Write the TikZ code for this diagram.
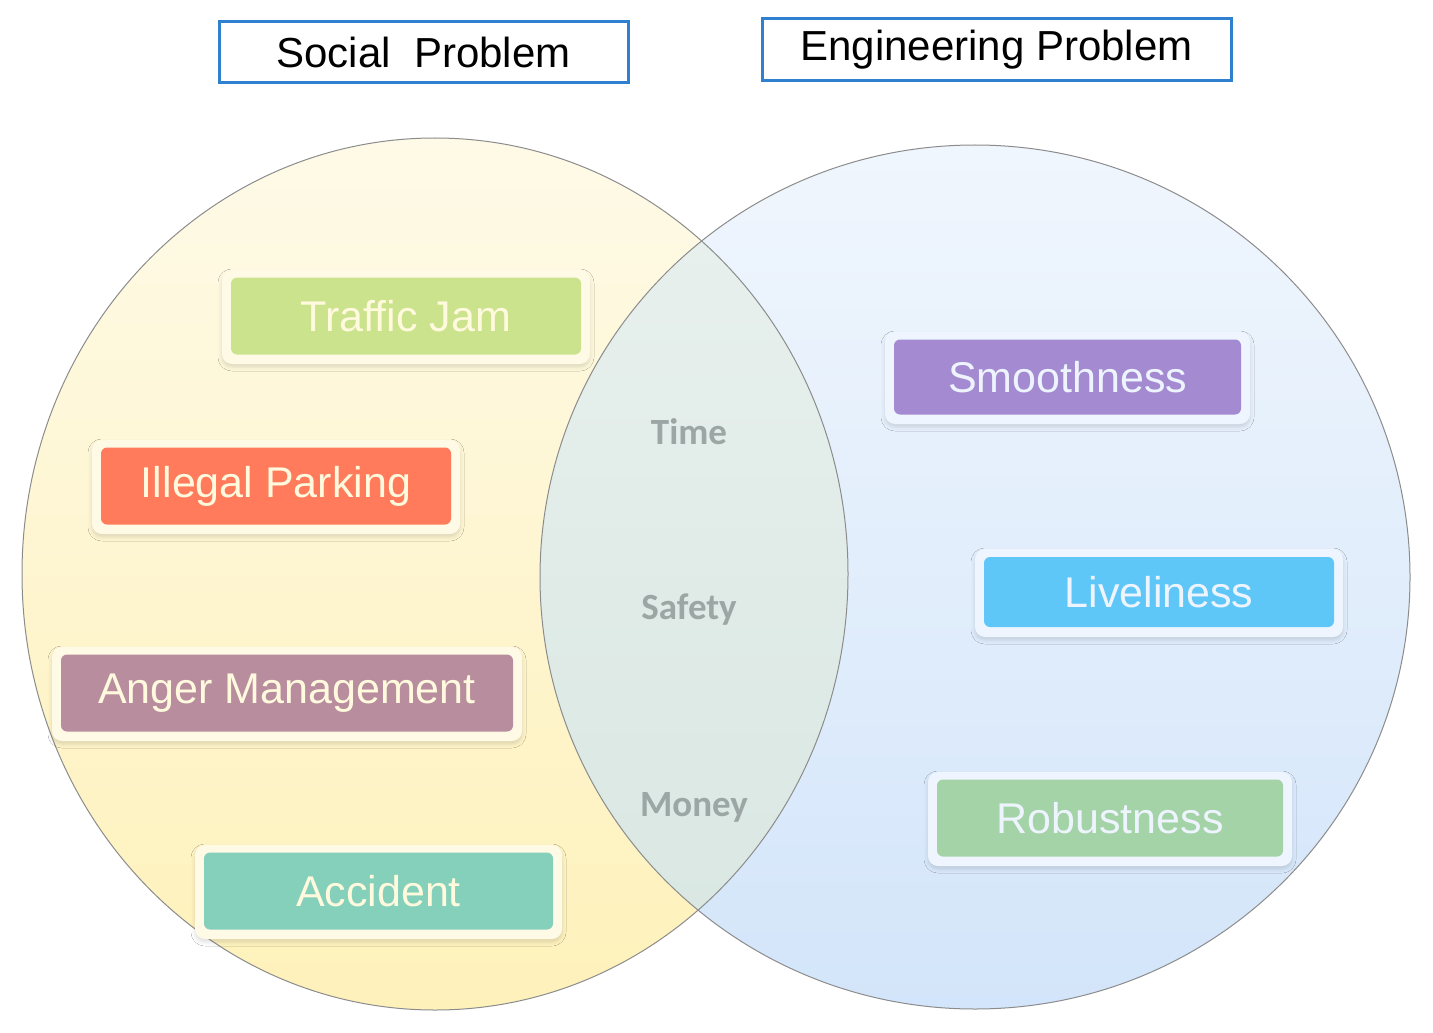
\documentclass[tikz,border=0pt]{standalone}
\usepackage{fontspec}
\setmainfont{Liberation Sans}
\newfontfamily\interfont{Carlito}
\usetikzlibrary{shadows.blur}
\definecolor{yelTop}{HTML}{FEFAE7}
\definecolor{yelBot}{HTML}{FEF1BA}
\definecolor{bluTop}{HTML}{F0F6FD}
\definecolor{bluBot}{HTML}{D3E5FA}
\definecolor{midTop}{HTML}{E9F1EE}
\definecolor{midBot}{HTML}{D8E6E1}
\definecolor{circLine}{HTML}{8C8C8C}
\definecolor{titleBlue}{HTML}{2F80CF}
\definecolor{glowY}{HTML}{FFFAE6}
\definecolor{glowB}{HTML}{EEF5FE}
\definecolor{txtY}{HTML}{FFF9DE}
\definecolor{txtB}{HTML}{EEF4FE}
\definecolor{cJam}{HTML}{CCE38D}
\definecolor{cPark}{HTML}{FF7B5B}
\definecolor{cAnger}{HTML}{B88E9F}
\definecolor{cAcc}{HTML}{84D0BA}
\definecolor{cSmooth}{HTML}{A48BD1}
\definecolor{cLive}{HTML}{5FC7F7}
\definecolor{cRobust}{HTML}{A3D3A6}
\definecolor{interText}{HTML}{9CA6A4}
\tikzset{
  titlebox/.style={draw=titleBlue, line width=1.5pt, fill=white, inner sep=0pt,
    font=\fontsize{21}{24}\selectfont, text=black},
  glowbox/.style={rounded corners=5pt, fill=#1, inner sep=0pt,
    blur shadow={shadow xshift=0pt, shadow yshift=-1.5pt, shadow blur radius=2pt, shadow opacity=13}},
  tagbox/.style={rounded corners=3pt, inner sep=0pt, fill=#1,
    font=\fontsize{21.5}{24}\selectfont},
  intertext/.style={font=\interfont\bfseries\fontsize{18.5}{22}\selectfont, text=interText},
  circline/.style={draw=circLine, line width=0.5pt}
}
\begin{document}
\begin{tikzpicture}[x=0.5pt,y=-0.5pt]
\useasboundingbox (0,0) rectangle (1433,1032);
\fill[white] (0,0) rectangle (1433,1032);

% circles
\shade[top color=yelTop, bottom color=yelBot] (435,574) ellipse [x radius=413, y radius=436];
\shade[top color=bluTop, bottom color=bluBot] (975,577) ellipse [x radius=435, y radius=432];
\begin{scope}
  \clip (435,574) ellipse [x radius=413, y radius=436];
  \shade[top color=midTop, bottom color=midBot] (975,577) ellipse [x radius=435, y radius=432];
\end{scope}
\draw[circline] (435,574) ellipse [x radius=413, y radius=436];
\draw[circline] (975,577) ellipse [x radius=435, y radius=432];

% titles
\node[titlebox, minimum width=204.5pt, minimum height=30.5pt] (social) at (423.5,52.5) {Social\ \ Problem};
\node[titlebox, minimum width=234.5pt, minimum height=31pt] (eng) at (996.5,50) {Engineering Problem};

% left tags
\node[glowbox=glowY, minimum width=184pt, minimum height=47pt] (jamG) at (406,317) {};
\node[tagbox=cJam, text=txtY, minimum width=175pt, minimum height=38.5pt] (jam) at (406,316) {Traffic Jam};

\node[glowbox=glowY, minimum width=184pt, minimum height=47pt] (parkG) at (276,487) {};
\node[tagbox=cPark, text=txtY, minimum width=175pt, minimum height=38.5pt] (park) at (276,486) {Illegal Parking};

\node[glowbox=glowY, minimum width=235pt, minimum height=47pt] (angerG) at (287,694) {};
\node[tagbox=cAnger, text=txtY, minimum width=226pt, minimum height=38.5pt] (anger) at (287,693) {Anger Management};

\node[glowbox=glowY, minimum width=183.5pt, minimum height=47pt] (accG) at (378.5,892) {};
\node[tagbox=cAcc, text=txtY, minimum width=174.5pt, minimum height=38.5pt] (acc) at (378.5,891) {Accident};

% right tags
\node[glowbox=glowB, minimum width=182.5pt, minimum height=46pt] (smoothG) at (1067.5,378) {};
\node[tagbox=cSmooth, text=txtB, minimum width=173.5pt, minimum height=37.5pt] (smooth) at (1067.5,377) {Smoothness};

\node[glowbox=glowB, minimum width=184pt, minimum height=44pt] (liveG) at (1159,593) {};
\node[tagbox=cLive, text=txtB, minimum width=175pt, minimum height=35pt] (live) at (1159,592) {Liveliness};

\node[glowbox=glowB, minimum width=182pt, minimum height=47pt] (robG) at (1110,819) {};
\node[tagbox=cRobust, text=txtB, minimum width=173pt, minimum height=38.5pt] (rob) at (1110,818) {Robustness};

% intersection
\node[intertext] (time) at (689,432) {Time};
\node[intertext] (safety) at (689,610) {Safety};
\node[intertext] (money) at (694,807) {Money};
\end{tikzpicture}
\end{document}
